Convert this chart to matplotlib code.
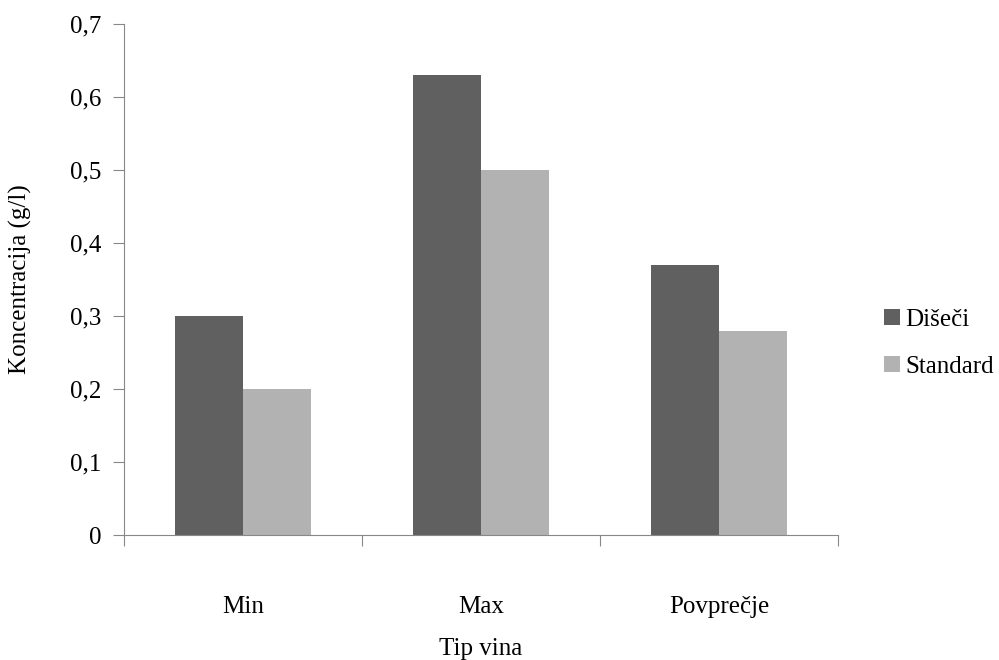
import numpy as np
import matplotlib as mpl
mpl.use('Agg')
import matplotlib.pyplot as plt

categories = ["Min", "Max", "Povprečje"]
diseci = [0.30, 0.63, 0.37]
standard = [0.20, 0.50, 0.28]
series_names = ["Dišeči", "Standard"]
yticks = [0, 0.1, 0.2, 0.3, 0.4, 0.5, 0.6, 0.7]
ytick_labels = ["0", "0,1", "0,2", "0,3", "0,4", "0,5", "0,6", "0,7"]

plt.rcParams['font.family'] = ['Liberation Serif', 'DejaVu Serif']
fs = 18

fig = plt.figure(figsize=(9.99, 6.6), dpi=100)
ax = fig.add_axes([0.124, 0.189, 0.715, 0.775])

x = np.arange(len(categories))
w = 0.284
ax.bar(x - w / 2, diseci, w, color='#606060', label=series_names[0])
ax.bar(x + w / 2, standard, w, color='#b2b2b2', label=series_names[1])

ax.set_xlim(-0.5, len(categories) - 0.5)
ax.set_ylim(0, 0.7)
ax.set_yticks(yticks)
ax.set_yticklabels(ytick_labels, fontsize=fs)
ax.set_xticks(np.arange(-0.5, len(categories)))
ax.set_xticklabels([])
ax.set_xticks(x, minor=True)
ax.set_xticklabels(categories, minor=True, fontsize=fs)
ax.tick_params(axis='x', which='minor', length=0, pad=44)
ax.tick_params(axis='x', which='major', length=8, color='#888888')
ax.tick_params(axis='y', length=8, color='#888888', pad=8)

for s in ['top', 'right']:
    ax.spines[s].set_visible(False)
for s in ['left', 'bottom']:
    ax.spines[s].set_color('#888888')

ax.set_ylabel("Koncentracija (g/l)", fontsize=fs)
ax.yaxis.set_label_coords(-0.128, 0.5)
ax.set_xlabel("Tip vina", fontsize=fs)
ax.xaxis.set_label_coords(0.5, -0.2)

ax.legend(loc='center left', bbox_to_anchor=(0.862, 0.48),
          bbox_transform=fig.transFigure, frameon=False,
          fontsize=fs, handlelength=0.65, handleheight=0.65, handletextpad=0.2,
          labelspacing=1.0)

plt.savefig("out.png")
plt.close()
